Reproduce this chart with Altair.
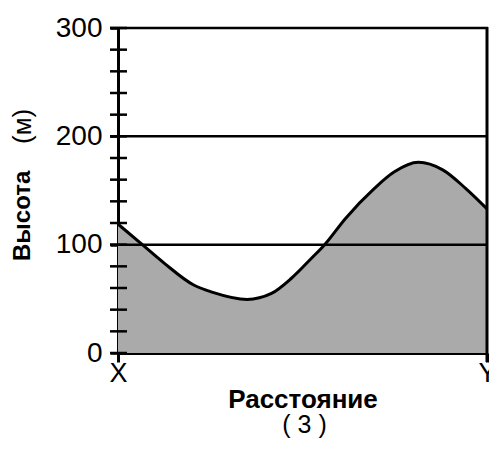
import altair as alt
import pandas as pd

# Elevation profile between X (0) and Y (100)
distance = [0, 6.6, 12.5, 20.4, 25.7, 35, 41.6, 47, 52.3, 56, 61.6, 69.5, 74.8, 81.4, 88, 94.2, 100]
elevation = [119, 100, 83, 63, 56, 49.5, 55, 69, 87, 100, 124, 152, 167, 176, 169, 152, 133]

y_labels = [0, 100, 200, 300]
y_minor = list(range(0, 301, 20))
grid_values = [100, 200, 300]
x_ticks = [0, 100]
x_labels = ["X", "Y"]

df = pd.DataFrame({"d": distance, "h": elevation})
minor_df = pd.DataFrame({"v": y_minor})
grid_df = pd.DataFrame({"v": grid_values})
right_df = pd.DataFrame({"d": [100]})

FONT = "Liberation Sans"
W, H = 369, 325

xscale = alt.Scale(domain=[0, 100], nice=False, zero=False)
yscale = alt.Scale(domain=[0, 300], nice=False)

x_axis = alt.Axis(
    values=x_ticks,
    labelExpr="datum.value == 0 ? 'X' : 'Y'",
    title="Расстояние",
    titleFont=FONT, titleFontSize=26, titleFontWeight="bold", titleColor="black",
    titlePadding=0,
    labelFont=FONT, labelFontSize=27, labelColor="black", labelPadding=-2,
    labelFlush=False, labelOverlap=False,
    tickSize=9, tickWidth=3, tickColor="black",
    domainColor="black", domainWidth=3, grid=False,
)
y_axis = alt.Axis(
    values=y_labels,
    title=None, labelOverlap=False, labelFlush=False,
    labelFont=FONT, labelFontSize=28, labelColor="black", labelPadding=8,
    tickSize=8, tickWidth=2.5, tickColor="black",
    domainColor="black", domainWidth=3, grid=False,
)

area = alt.Chart(df).mark_area(color="#aaaaaa", interpolate="monotone").encode(
    x=alt.X("d:Q", scale=xscale, axis=x_axis),
    y=alt.Y("h:Q", scale=yscale, axis=y_axis),
)
line = alt.Chart(df).mark_line(color="black", strokeWidth=3, interpolate="monotone").encode(
    x=alt.X("d:Q", scale=xscale),
    y=alt.Y("h:Q", scale=yscale),
)
grid = alt.Chart(grid_df).mark_rule(color="black", strokeWidth=2.5).encode(
    y=alt.Y("v:Q", scale=yscale),
    x=alt.value(-8), x2=alt.value(W + 1),
)
right = alt.Chart(right_df).mark_rule(color="black", strokeWidth=3).encode(
    x=alt.X("d:Q", scale=xscale),
    y=alt.value(-1), y2=alt.value(H + 9),
)
minor_ticks = alt.Chart(minor_df).mark_rule(color="black", strokeWidth=2.5).encode(
    y=alt.Y("v:Q", scale=yscale),
    x=alt.value(-8), x2=alt.value(9),
)
ytitle1 = alt.Chart(pd.DataFrame({"t": ["Высота"]})).mark_text(
    font=FONT, fontSize=24, fontWeight="bold", angle=270, align="left", baseline="middle", color="black"
).encode(text="t:N", x=alt.value(-95), y=alt.value(233))
ytitle2 = alt.Chart(pd.DataFrame({"t": ["(м)"]})).mark_text(
    font=FONT, fontSize=26, angle=270, align="left", baseline="middle", color="black"
).encode(text="t:N", x=alt.value(-95), y=alt.value(116))
subtitle = alt.Chart(pd.DataFrame({"t": ["( 3 )"]})).mark_text(
    font=FONT, fontSize=25, align="center", baseline="alphabetic", color="black"
).encode(text="t:N", x=alt.value(W / 2 + 2), y=alt.value(H + 80))

chart = alt.layer(area, grid, minor_ticks, line, right, ytitle1, ytitle2, subtitle).properties(
    width=W, height=H,
    background="white",
    autosize=alt.AutoSizeParams(type="none"),
    padding={"left": 110, "top": 20, "right": 2, "bottom": 87},
).configure_view(stroke=None)

chart.save("out.html", embed_options={"renderer": "svg", "actions": False})
